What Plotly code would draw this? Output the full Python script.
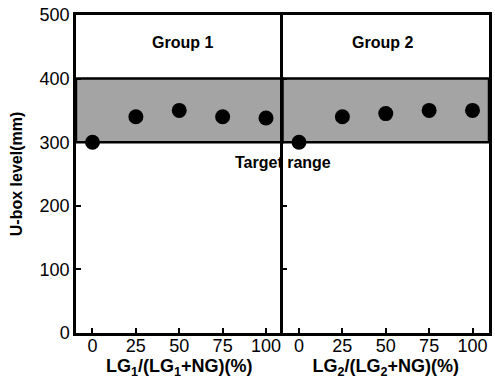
import plotly.graph_objects as go

x_ratio = [0, 25, 50, 75, 100]
group1_level = [300, 340, 350, 340, 338]
group2_level = [300, 340, 345, 350, 350]
y_ticks = [0, 100, 200, 300, 400, 500]
target_low, target_high = 300, 400
group_names = ["Group 1", "Group 2"]

fig = go.Figure()
fig.add_trace(go.Scatter(x=x_ratio, y=group1_level, mode="markers",
                         marker=dict(color="black", size=15), xaxis="x", yaxis="y"))
fig.add_trace(go.Scatter(x=x_ratio, y=group2_level, mode="markers",
                         marker=dict(color="black", size=15), xaxis="x2", yaxis="y2"))

for xr, yr in (("x", "y"), ("x2", "y2")):
    fig.add_shape(type="rect", xref=xr + " domain", yref=yr, x0=0, x1=1,
                  y0=target_low, y1=target_high, fillcolor="#a4a4a4",
                  line=dict(color="black", width=2.5), layer="below")

font_tick = dict(family="Liberation Sans, Arial", size=18, color="black")
font_xtitle = dict(family="Liberation Sans, Arial", size=18, color="black")
font_ytitle = dict(family="Liberation Sans, Arial", size=16, color="black")
font_text = dict(family="Liberation Sans, Arial", size=16, color="black")

common_x = dict(range=[-9.5, 109.5], tickvals=x_ratio, ticks="inside", ticklen=5,
                tickwidth=2, tickcolor="black", showline=True, linecolor="black",
                linewidth=2.5, mirror=True, showgrid=False, zeroline=False,
                tickfont=font_tick, ticklabelstandoff=-5)
common_y = dict(range=[0, 500], tickvals=y_ticks, ticks="inside", ticklen=5,
                tickwidth=2, tickcolor="black", showline=True, linecolor="black",
                linewidth=2.5, showgrid=False, zeroline=False, tickfont=font_tick)

fig.update_layout(
    width=495, height=380,
    margin=dict(l=76, r=3, t=15, b=47),
    plot_bgcolor="white", paper_bgcolor="white",
    showlegend=False,
    xaxis=dict(domain=[0, 0.5], anchor="y",
               title=dict(text="<b>LG<sub>1</sub>/(LG<sub>1</sub>+NG)(%)</b>", font=font_xtitle, standoff=0),
               **common_x),
    xaxis2=dict(domain=[0.5, 1], anchor="y2",
                title=dict(text="<b>LG<sub>2</sub>/(LG<sub>2</sub>+NG)(%)</b>", font=font_xtitle, standoff=0),
                **common_x),
    yaxis=dict(domain=[0, 1], anchor="x",
               title=dict(text="<b>U-box level(mm)</b>", font=font_ytitle, standoff=14),
               **common_y),
    yaxis2=dict(domain=[0, 1], anchor="x2", showticklabels=False, mirror=True, **common_y),
)

fig.add_annotation(text="<b>%s</b>" % group_names[0], xref="x", yref="y", x=52, y=457,
                   showarrow=False, font=font_text)
fig.add_annotation(text="<b>%s</b>" % group_names[1], xref="x2", yref="y2", x=48, y=457,
                   showarrow=False, font=font_text)
fig.add_annotation(text="<b>Target range</b>", xref="paper", yref="y", x=0.5, y=268,
                   showarrow=False, font=font_text)

fig.write_html("out.html")
